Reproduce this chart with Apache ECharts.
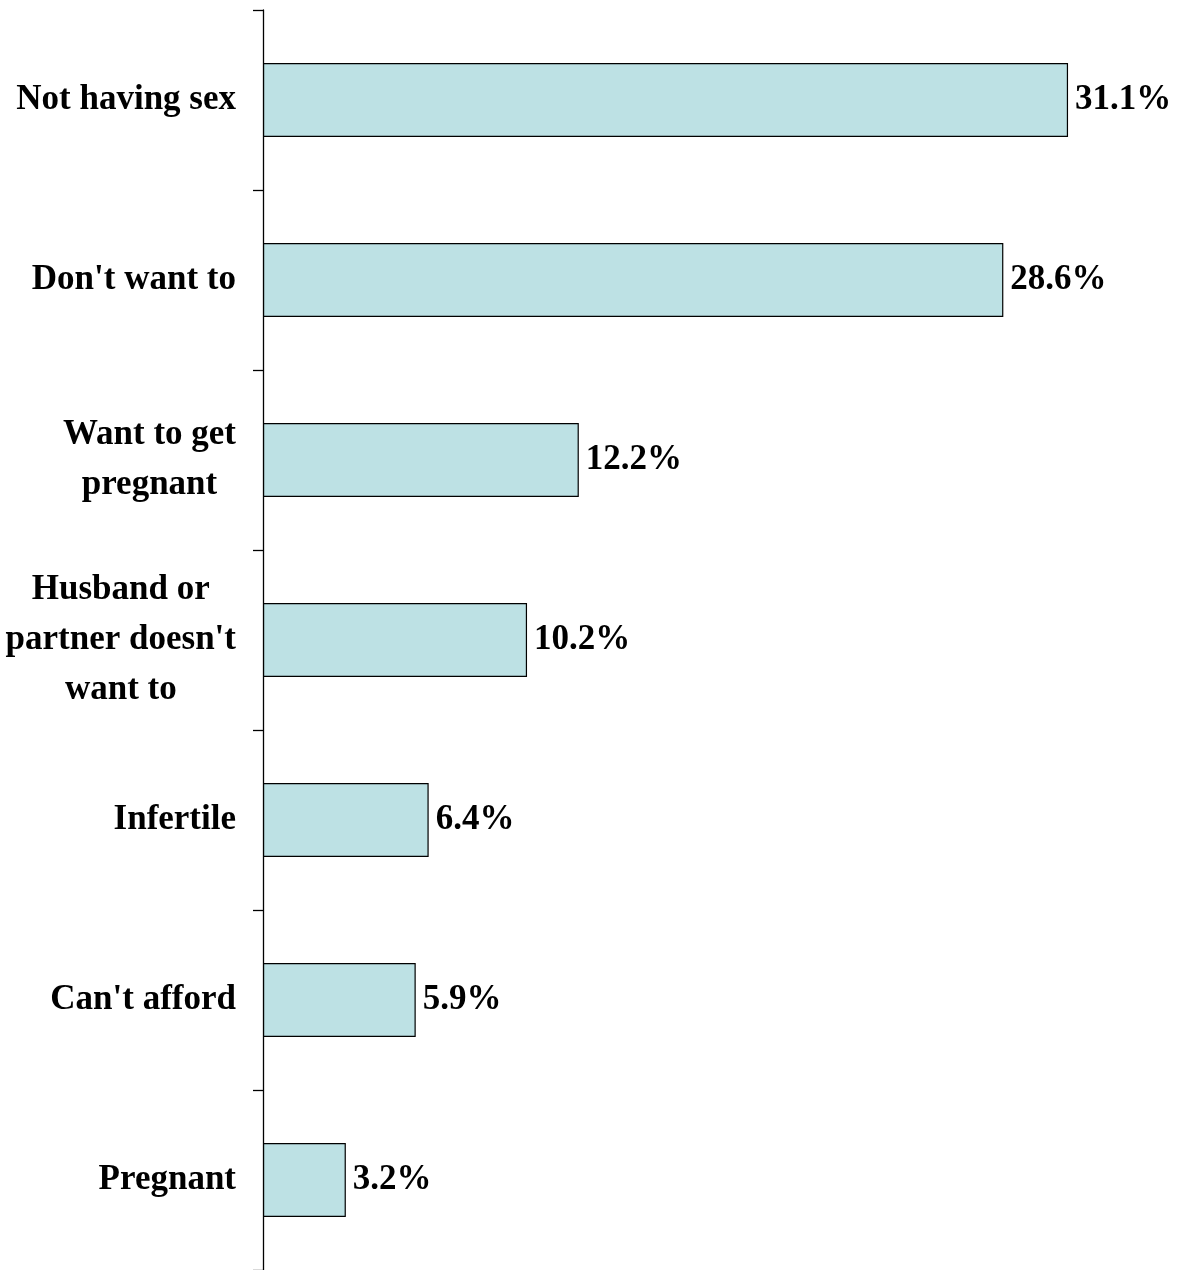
<!doctype html>
<meta charset="utf-8">
<style>
  html, body {
    margin: 0;
    height: 100%;
    background: #fff;
  }

  #chart {
    width: 1184px;
    height: 1270px;
  }
</style>
<script src="https://cdn.jsdelivr.net/npm/echarts@6/dist/echarts.min.js"></script>

<div id="chart"></div>

<script>
  const categories = [
    'Not having sex',
    "Don't want to",
    'Want to get\npregnant',
    "Husband or\npartner doesn't\nwant to",
    'Infertile',
    "Can't afford",
    'Pregnant',
  ]
  const values = [31.1, 28.6, 12.2, 10.2, 6.4, 5.9, 3.2]

  const font = '"Liberation Serif", "Times New Roman", serif'
  let chart = echarts.init(document.getElementById('chart'))

  chart.setOption({
    animation: false,
    grid: {
      left: 263,
      top: 10,
      width: 906,
      height: 1260,
      containLabel: false,
      outerBoundsMode: 'none',
    },
    xAxis: {
      type: 'value',
      min: 0,
      max: 35,
      show: false,
    },
    yAxis: {
      type: 'category',
      data: categories,
      inverse: true,
      axisLine: {
        show: true,
        lineStyle: { color: '#000', width: 1.3 },
      },
      axisTick: {
        show: true,
        length: 10,
        lineStyle: { color: '#000', width: 1.3 },
      },
      axisLabel: {
        margin: 27,
        formatter: v => v.split('\n').map(s => '{c|' + s + '}').join('\n'),
        rich: {
          c: {
            align: 'center',
            fontFamily: font,
            fontWeight: 'bold',
            fontSize: 35,
            lineHeight: 50,
            color: '#000',
          },
        },
      },
      splitLine: { show: false },
    },
    series: {
      type: 'bar',
      data: values,
      barCategoryGap: '59%',
      itemStyle: {
        color: '#bde1e4',
        borderColor: '#000',
        borderWidth: 1.2,
      },
      label: {
        show: true,
        position: 'right',
        distance: 7,
        formatter: p => p.value.toFixed(1) + '%',
        fontFamily: font,
        fontWeight: 'bold',
        fontSize: 35,
        color: '#000',
      },
    },
  })
</script>
